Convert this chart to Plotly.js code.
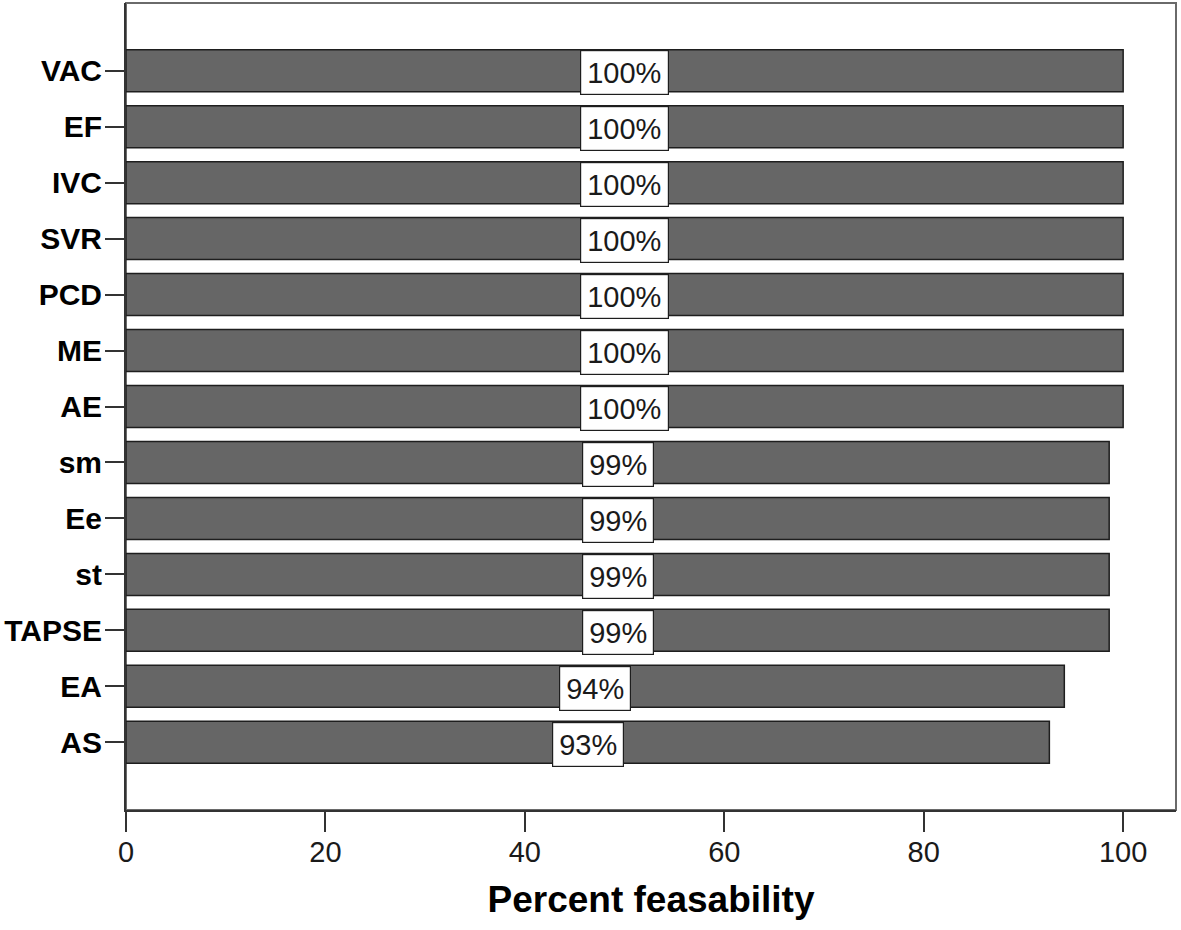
<!DOCTYPE html>
<html>
<head>
<meta charset="utf-8">
<script src="https://cdn.plot.ly/plotly-3.0.1.min.js"></script>
<style>html,body{margin:0;padding:0;background:#fff;}#chart{width:1181px;height:930px;}</style>
</head>
<body>
<div id="chart"></div>
<script>
// Categories from bottom to top
var categories = ["AS", "EA", "TAPSE", "st", "Ee", "sm", "AE", "ME", "PCD", "SVR", "IVC", "EF", "VAC"];
var values = [92.6, 94.1, 98.6, 98.6, 98.6, 98.6, 100, 100, 100, 100, 100, 100, 100];
var labels = ["93%", "94%", "99%", "99%", "99%", "99%", "100%", "100%", "100%", "100%", "100%", "100%", "100%"];
var xTicks = [0, 20, 40, 60, 80, 100];

var trace = {
  type: "bar",
  orientation: "h",
  y: categories,
  x: values,
  width: 0.75,
  marker: {color: "#666666", line: {color: "#1e1e1e", width: 1.5}},
  hoverinfo: "none"
};

var annotations = categories.map(function (c, i) {
  return {
    x: values[i] / 2, y: c, xref: "x", yref: "y",
    text: labels[i], showarrow: false,
    font: {family: "Liberation Sans, Arial, sans-serif", size: 29, color: "#1a1a1a"},
    bgcolor: "#ffffff", bordercolor: "#1e1e1e", borderwidth: 1.2, borderpad: 6,
    height: 31, yshift: -2
  };
});

var layout = {
  width: 1181, height: 930,
  margin: {l: 126, r: 5, t: 3, b: 120},
  paper_bgcolor: "#ffffff", plot_bgcolor: "#ffffff",
  showlegend: false,
  font: {family: "Liberation Sans, Arial, sans-serif", color: "#111"},
  xaxis: {
    range: [0, 105.3], tickvals: xTicks, ticktext: xTicks.map(String),
    showgrid: false, zeroline: false,
    showline: true, linecolor: "#333", linewidth: 2,
    ticks: "outside", ticklen: 20, tickwidth: 2, tickcolor: "#333",
    ticklabelstandoff: -5,
    tickfont: {size: 29, color: "#1a1a1a"},
    title: {text: "Percent feasability", font: {size: 37, weight: "bold", color: "#000"}, standoff: 19},
    fixedrange: true
  },
  yaxis: {
    type: "category", categoryorder: "array", categoryarray: categories,
    range: [-1.21, 13.21],
    showgrid: false, zeroline: false,
    showline: true, linecolor: "#333", linewidth: 2,
    ticks: "outside", ticklen: 19, tickwidth: 2, tickcolor: "#333",
    ticklabelstandoff: -3,
    tickfont: {size: 30, weight: "bold", color: "#000"},
    fixedrange: true
  },
  shapes: [{
    type: "rect", xref: "paper", yref: "paper", x0: 0, x1: 1, y0: 0, y1: 1,
    line: {color: "#6a6a6a", width: 2}, layer: "below"
  }],
  annotations: annotations
};

Plotly.newPlot("chart", [trace], layout, {displayModeBar: false, staticPlot: true});
</script>
</body>
</html>
